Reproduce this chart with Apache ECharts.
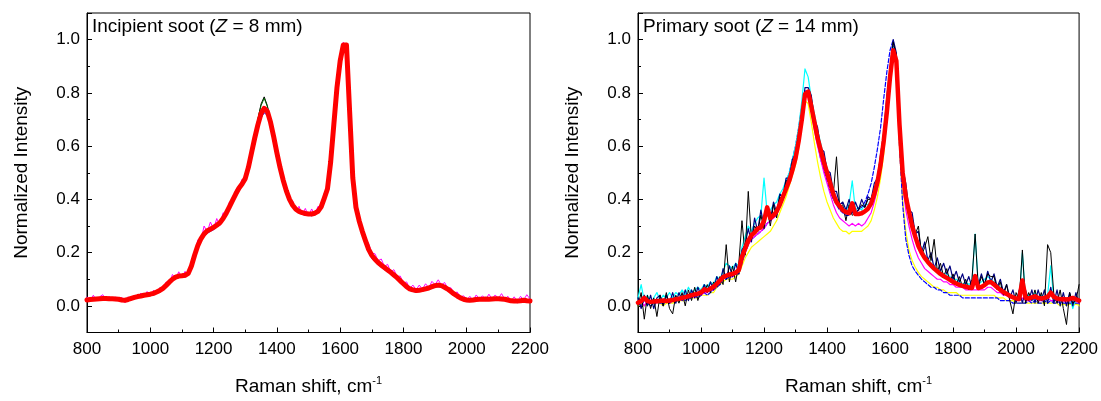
<!DOCTYPE html>
<html><head><meta charset="utf-8">
<script src="https://cdn.jsdelivr.net/npm/echarts@6/dist/echarts.min.js"></script>
<style>html,body{margin:0;padding:0;background:#fff}#c{width:1101px;height:401px}</style>
</head><body><div id="c"></div>
<script>
const waveNumbers = [800,810,820,830,840,850,860,870,880,890,900,910,920,930,940,950,960,970,980,990,1000,1010,1020,1030,1040,1050,1060,1070,1080,1090,1100,1110,1120,1130,1140,1150,1160,1170,1180,1190,1200,1210,1220,1230,1240,1250,1260,1270,1280,1290,1300,1310,1320,1330,1340,1350,1360,1370,1380,1390,1400,1410,1420,1430,1440,1450,1460,1470,1480,1490,1500,1510,1520,1530,1540,1550,1560,1570,1580,1590,1600,1610,1620,1630,1640,1650,1660,1670,1680,1690,1700,1710,1720,1730,1740,1750,1760,1770,1780,1790,1800,1810,1820,1830,1840,1850,1860,1870,1880,1890,1900,1910,1920,1930,1940,1950,1960,1970,1980,1990,2000,2010,2020,2030,2040,2050,2060,2070,2080,2090,2100,2110,2120,2130,2140,2150,2160,2170,2180,2190,2200];

const xTicks = [800,1000,1200,1400,1600,1800,2000,2200];
const yTicks = [0.0,0.2,0.4,0.6,0.8,1.0];
const panelTitles = [['Incipient soot (', 'Z', ' = 8 mm)'], ['Primary soot (', 'Z', ' = 14 mm)']];

// ---- Left panel: incipient soot (Z = 8 mm)
const leftMagenta = [0.034,0.018,0.040,0.020,0.034,0.042,0.022,0.036,0.020,0.034,
0.018,0.032,0.012,0.034,0.020,0.040,0.028,0.048,0.034,0.054,
0.038,0.058,0.046,0.068,0.058,0.090,0.082,0.118,0.102,0.128,
0.108,0.130,0.116,0.165,0.180,0.248,0.244,0.300,0.278,0.315,
0.288,0.328,0.302,0.350,0.342,0.390,0.390,0.436,0.436,0.476,
0.468,0.534,0.570,0.644,0.674,0.736,0.748,0.742,0.684,0.648,
0.568,0.534,0.466,0.446,0.394,0.394,0.356,0.374,0.343,0.366,
0.338,0.364,0.343,0.374,0.370,0.424,0.446,0.554,0.670,0.834,
0.916,0.990,0.970,0.744,0.470,0.394,0.326,0.298,0.256,0.234,
0.198,0.196,0.170,0.176,0.148,0.156,0.128,0.136,0.110,0.112,
0.086,0.090,0.066,0.078,0.060,0.078,0.063,0.083,0.068,0.092,
0.080,0.098,0.078,0.088,0.066,0.068,0.048,0.052,0.033,0.038,
0.023,0.036,0.020,0.041,0.026,0.038,0.023,0.044,0.026,0.041,
0.028,0.046,0.026,0.036,0.018,0.034,0.016,0.036,0.022,0.042,
0.026];
const leftBlue = [0.018,0.026,0.020,0.028,0.024,0.026,0.030,0.022,0.028,0.020,
0.024,0.016,0.020,0.018,0.026,0.028,0.034,0.032,0.038,0.036,
0.042,0.040,0.050,0.052,0.062,0.070,0.084,0.094,0.104,0.106,
0.110,0.108,0.118,0.142,0.184,0.218,0.244,0.262,0.272,0.280,
0.286,0.296,0.304,0.320,0.340,0.364,0.390,0.412,0.436,0.452,
0.472,0.512,0.568,0.622,0.668,0.706,0.725,0.716,0.680,0.628,
0.568,0.514,0.466,0.426,0.394,0.372,0.358,0.350,0.344,0.340,
0.342,0.338,0.344,0.350,0.366,0.400,0.436,0.534,0.676,0.814,
0.916,0.976,0.978,0.722,0.468,0.360,0.308,0.270,0.236,0.202,
0.178,0.166,0.154,0.146,0.136,0.128,0.118,0.110,0.100,0.088,
0.076,0.066,0.058,0.054,0.052,0.054,0.056,0.060,0.062,0.066,
0.070,0.072,0.070,0.064,0.056,0.048,0.040,0.032,0.026,0.020,
0.016,0.016,0.018,0.020,0.020,0.022,0.020,0.022,0.022,0.024,
0.022,0.020,0.020,0.018,0.014,0.014,0.012,0.014,0.016,0.014,
0.014];
const leftBlack = [0.024,0.022,0.028,0.024,0.030,0.026,0.030,0.028,0.026,0.028,
0.022,0.024,0.020,0.026,0.026,0.034,0.034,0.040,0.040,0.044,
0.044,0.050,0.052,0.060,0.066,0.080,0.090,0.102,0.110,0.114,
0.114,0.118,0.124,0.152,0.192,0.228,0.254,0.272,0.284,0.290,
0.296,0.306,0.314,0.332,0.350,0.376,0.398,0.424,0.448,0.466,
0.482,0.526,0.582,0.640,0.700,0.758,0.785,0.752,0.694,0.636,
0.576,0.520,0.474,0.434,0.402,0.380,0.364,0.356,0.352,0.348,
0.346,0.346,0.350,0.356,0.374,0.406,0.442,0.542,0.684,0.822,
0.924,0.982,0.984,0.734,0.484,0.374,0.322,0.282,0.248,0.216,
0.192,0.176,0.166,0.154,0.146,0.136,0.128,0.118,0.108,0.096,
0.084,0.074,0.066,0.062,0.060,0.060,0.062,0.066,0.068,0.074,
0.078,0.080,0.078,0.072,0.064,0.056,0.046,0.038,0.032,0.026,
0.022,0.022,0.024,0.026,0.026,0.026,0.028,0.026,0.028,0.028,
0.028,0.028,0.026,0.024,0.020,0.018,0.018,0.020,0.022,0.020,
0.018];
const leftGreen = [0.026,0.020,0.026,0.028,0.024,0.030,0.026,0.026,0.030,0.024,
0.026,0.020,0.022,0.024,0.030,0.030,0.036,0.036,0.042,0.040,
0.046,0.046,0.054,0.056,0.068,0.076,0.092,0.098,0.110,0.110,
0.116,0.114,0.126,0.146,0.196,0.224,0.256,0.268,0.286,0.286,
0.298,0.302,0.316,0.328,0.352,0.372,0.400,0.420,0.450,0.462,
0.486,0.522,0.584,0.636,0.702,0.752,0.780,0.748,0.696,0.632,
0.578,0.516,0.476,0.430,0.404,0.376,0.366,0.352,0.354,0.344,
0.348,0.342,0.352,0.352,0.376,0.402,0.444,0.538,0.682,0.818,
0.922,0.978,0.986,0.728,0.486,0.368,0.324,0.278,0.250,0.214,
0.194,0.172,0.168,0.150,0.148,0.132,0.130,0.114,0.110,0.092,
0.086,0.070,0.068,0.058,0.062,0.056,0.064,0.062,0.070,0.070,
0.080,0.076,0.080,0.068,0.066,0.052,0.048,0.034,0.034,0.022,
0.024,0.018,0.026,0.022,0.028,0.022,0.030,0.022,0.030,0.024,
0.030,0.024,0.028,0.020,0.022,0.014,0.020,0.016,0.024,0.016,
0.020];
const leftRed = [0.022,0.024,0.025,0.026,0.027,0.028,0.028,0.027,0.027,0.026,
0.025,0.022,0.021,0.024,0.028,0.032,0.035,0.037,0.040,0.042,
0.044,0.047,0.052,0.058,0.066,0.077,0.089,0.100,0.108,0.112,
0.113,0.115,0.122,0.150,0.190,0.226,0.252,0.270,0.282,0.288,
0.295,0.303,0.312,0.328,0.348,0.372,0.396,0.420,0.442,0.458,
0.478,0.520,0.575,0.630,0.680,0.722,0.742,0.730,0.690,0.635,
0.575,0.520,0.472,0.432,0.400,0.378,0.363,0.355,0.350,0.347,
0.345,0.345,0.348,0.355,0.372,0.405,0.440,0.540,0.680,0.820,
0.920,0.980,0.980,0.730,0.480,0.370,0.320,0.280,0.245,0.212,
0.190,0.175,0.163,0.153,0.144,0.135,0.126,0.116,0.106,0.094,
0.083,0.072,0.064,0.060,0.058,0.059,0.061,0.064,0.067,0.072,
0.076,0.078,0.076,0.070,0.063,0.054,0.045,0.037,0.030,0.025,
0.022,0.021,0.022,0.024,0.025,0.025,0.026,0.025,0.026,0.027,
0.027,0.026,0.025,0.022,0.019,0.018,0.018,0.019,0.021,0.019,
0.018];

// ---- Right panel: primary soot (Z = 14 mm)
const rightYellow = [0.00,0.01,0.00,0.01,0.00,0.01,0.01,0.01,0.00,0.01,
0.01,0.01,0.02,0.02,0.02,0.02,0.03,0.03,0.03,0.03,
0.04,0.04,0.04,0.05,0.05,0.07,0.08,0.09,0.10,0.10,
0.10,0.11,0.12,0.15,0.18,0.20,0.22,0.23,0.24,0.25,
0.26,0.27,0.28,0.30,0.32,0.35,0.38,0.41,0.45,0.49,
0.53,0.59,0.68,0.77,0.76,0.69,0.61,0.54,0.48,0.43,
0.39,0.36,0.33,0.31,0.29,0.28,0.28,0.27,0.28,0.28,
0.28,0.28,0.29,0.30,0.32,0.36,0.41,0.48,0.57,0.70,
0.84,0.96,0.90,0.60,0.40,0.28,0.21,0.17,0.145,0.125,
0.11,0.10,0.09,0.08,0.07,0.07,0.06,0.06,0.05,0.05,
0.05,0.05,0.04,0.04,0.04,0.04,0.04,0.04,0.04,0.04,
0.04,0.04,0.04,0.04,0.03,0.03,0.03,0.02,0.02,0.02,
0.01,0.01,0.01,0.01,0.01,0.01,0.01,0.01,0.01,0.01,
0.01,0.01,0.01,0.01,0.00,0.01,0.00,0.01,0.00,0.01,
0.00];
const rightBlue = [0.01,0.00,0.02,0.01,0.00,0.01,0.02,0.01,0.01,0.02,
0.01,0.02,0.02,0.02,0.03,0.02,0.03,0.03,0.04,0.03,
0.04,0.05,0.04,0.05,0.06,0.07,0.08,0.10,0.10,0.11,
0.11,0.12,0.12,0.16,0.20,0.23,0.25,0.26,0.27,0.28,
0.29,0.31,0.32,0.34,0.36,0.39,0.42,0.46,0.50,0.55,
0.60,0.67,0.75,0.81,0.80,0.74,0.67,0.61,0.55,0.51,
0.47,0.43,0.40,0.38,0.36,0.35,0.34,0.34,0.35,0.35,
0.36,0.37,0.39,0.42,0.46,0.52,0.59,0.67,0.78,0.88,
0.96,1.00,0.88,0.60,0.38,0.25,0.19,0.15,0.13,0.115,
0.10,0.09,0.08,0.07,0.07,0.06,0.06,0.05,0.05,0.04,
0.04,0.04,0.04,0.03,0.03,0.03,0.03,0.03,0.03,0.03,
0.03,0.03,0.03,0.03,0.03,0.02,0.02,0.02,0.02,0.01,
0.01,0.01,0.01,0.01,0.02,0.01,0.02,0.01,0.01,0.02,
0.01,0.02,0.01,0.01,0.02,0.01,0.01,0.01,0.01,0.01,
0.01];
const rightMagenta = [0.01,0.02,0.00,0.02,0.01,0.02,0.01,0.02,0.01,0.02,
0.01,0.02,0.02,0.03,0.02,0.03,0.03,0.04,0.03,0.04,
0.04,0.05,0.05,0.06,0.06,0.08,0.09,0.10,0.11,0.11,
0.11,0.12,0.13,0.17,0.20,0.23,0.25,0.26,0.27,0.28,
0.29,0.31,0.32,0.33,0.34,0.37,0.40,0.43,0.46,0.50,
0.54,0.61,0.70,0.78,0.79,0.73,0.66,0.60,0.55,0.50,
0.46,0.42,0.38,0.35,0.33,0.32,0.31,0.30,0.31,0.30,
0.31,0.30,0.31,0.33,0.35,0.39,0.44,0.51,0.60,0.72,
0.85,0.95,0.90,0.65,0.46,0.36,0.30,0.25,0.21,0.18,
0.16,0.14,0.13,0.12,0.11,0.10,0.10,0.09,0.09,0.08,
0.08,0.07,0.07,0.07,0.06,0.06,0.06,0.06,0.06,0.06,
0.06,0.07,0.07,0.06,0.05,0.05,0.04,0.04,0.03,0.03,
0.02,0.02,0.03,0.02,0.02,0.02,0.03,0.02,0.02,0.02,
0.03,0.02,0.02,0.02,0.01,0.02,0.01,0.02,0.01,0.02,
0.01];
const rightCyan = [0.03,0.08,0.02,0.04,0.01,0.03,0.05,0.02,0.04,0.03,
0.05,0.03,0.05,0.04,0.06,0.04,0.07,0.05,0.06,0.07,
0.06,0.08,0.07,0.09,0.08,0.11,0.10,0.13,0.16,0.15,
0.14,0.16,0.15,0.22,0.26,0.30,0.28,0.31,0.33,0.34,
0.48,0.35,0.36,0.38,0.39,0.42,0.44,0.47,0.50,0.55,
0.60,0.67,0.77,0.89,0.86,0.78,0.72,0.66,0.61,0.56,
0.52,0.47,0.44,0.40,0.38,0.37,0.36,0.38,0.47,0.36,
0.37,0.36,0.38,0.38,0.40,0.44,0.48,0.55,0.64,0.76,
0.88,0.97,0.93,0.70,0.52,0.42,0.36,0.31,0.27,0.24,
0.22,0.19,0.18,0.16,0.15,0.14,0.13,0.12,0.12,0.11,
0.10,0.10,0.09,0.08,0.09,0.08,0.09,0.27,0.08,0.09,
0.10,0.11,0.10,0.09,0.08,0.07,0.06,0.05,0.04,0.03,
0.03,0.02,0.20,0.03,0.04,0.02,0.05,0.03,0.04,0.02,
0.04,0.15,0.02,0.03,0.01,0.03,0.02,0.04,-0.01,0.03,
0.02];
const rightNavy = [0.03,-0.01,0.04,0.00,0.04,-0.01,0.03,0.04,0.00,0.04,
0.01,0.05,0.01,0.05,0.02,0.06,0.02,0.06,0.03,0.07,
0.04,0.08,0.05,0.09,0.06,0.11,0.08,0.14,0.10,0.15,
0.11,0.16,0.12,0.21,0.23,0.29,0.24,0.33,0.28,0.36,
0.30,0.37,0.32,0.39,0.35,0.42,0.41,0.48,0.48,0.55,
0.57,0.65,0.71,0.82,0.82,0.79,0.70,0.67,0.59,0.58,
0.51,0.50,0.43,0.43,0.38,0.39,0.36,0.40,0.35,0.39,
0.36,0.40,0.37,0.41,0.40,0.46,0.48,0.57,0.65,0.79,
0.89,1.00,0.95,0.72,0.52,0.46,0.36,0.35,0.27,0.28,
0.20,0.24,0.17,0.20,0.14,0.18,0.13,0.16,0.12,0.15,
0.10,0.13,0.09,0.12,0.08,0.11,0.07,0.11,0.08,0.12,
0.08,0.13,0.09,0.12,0.07,0.10,0.05,0.08,0.03,0.06,
0.01,0.06,0.01,0.06,0.02,0.06,0.01,0.06,0.02,0.06,
0.01,0.07,0.01,0.06,0.00,0.05,0.00,0.05,0.00,0.05,
0.01];
const rightBlack = [0.00,0.05,-0.05,0.04,-0.01,0.03,-0.04,0.04,0.00,0.05,
-0.01,-0.03,0.04,0.01,0.05,0.00,0.06,0.02,0.07,0.02,
0.06,0.05,0.08,0.05,0.09,0.07,0.11,0.08,0.23,0.09,
0.15,0.09,0.16,0.32,0.19,0.43,0.25,0.30,0.28,0.34,
0.29,0.36,0.30,0.38,0.33,0.41,0.40,0.47,0.47,0.54,
0.55,0.64,0.71,0.80,0.79,0.74,0.68,0.64,0.58,0.56,
0.50,0.48,0.42,0.56,0.37,0.38,0.32,0.38,0.34,0.35,
0.36,0.38,0.37,0.40,0.40,0.44,0.47,0.55,0.63,0.76,
0.88,0.99,0.94,0.70,0.51,0.44,0.36,0.33,0.27,0.30,
0.19,0.22,0.26,0.17,0.25,0.13,0.16,0.11,0.14,0.09,
0.12,0.08,0.11,0.07,0.10,0.06,0.10,0.27,0.07,0.11,
0.08,0.12,0.11,0.11,0.06,0.09,0.04,0.08,0.02,-0.03,
0.05,0.02,0.21,0.01,0.05,0.02,0.06,0.01,0.05,0.00,
0.23,0.20,0.04,0.01,0.06,-0.01,-0.07,0.05,0.01,0.02,
0.08];
const rightRed = [0.012,0.018,0.030,0.018,0.015,0.016,0.018,0.018,0.020,0.018,
0.020,0.022,0.025,0.027,0.030,0.033,0.036,0.040,0.043,0.046,
0.050,0.062,0.058,0.065,0.072,0.082,0.095,0.108,0.113,0.118,
0.120,0.125,0.135,0.185,0.215,0.245,0.265,0.275,0.290,0.295,
0.320,0.370,0.330,0.340,0.355,0.380,0.410,0.440,0.470,0.510,
0.555,0.620,0.700,0.795,0.805,0.750,0.690,0.630,0.585,0.540,
0.500,0.460,0.420,0.390,0.375,0.360,0.352,0.348,0.385,0.345,
0.345,0.348,0.355,0.365,0.385,0.420,0.465,0.530,0.620,0.730,
0.860,0.960,0.920,0.680,0.500,0.410,0.355,0.300,0.260,0.225,
0.200,0.180,0.165,0.152,0.140,0.130,0.120,0.112,0.105,0.098,
0.090,0.084,0.079,0.075,0.072,0.069,0.067,0.112,0.067,0.071,
0.078,0.088,0.090,0.080,0.070,0.060,0.052,0.045,0.038,0.032,
0.028,0.026,0.095,0.030,0.028,0.032,0.036,0.030,0.028,0.030,
0.034,0.050,0.034,0.028,0.025,0.026,0.024,0.026,0.030,0.025,
0.020];

const FONT = 'Arial, "Liberation Sans", sans-serif';
const pairs = arr => waveNumbers.map((x, i) => [x, arr[i]]);

const grids = [
  { left: 87, top: 13, width: 443, height: 325 },
  { left: 638, top: 13, width: 442, height: 325 }
].map(g => Object.assign(g, { show: true, borderColor: '#000', borderWidth: 1, backgroundColor: 'transparent', containLabel: false }));

function xAxisFor(gi) {
  return {
    gridIndex: gi, type: 'value', min: xTicks[0], max: xTicks[xTicks.length - 1], interval: xTicks[1] - xTicks[0],
    axisLine: { onZero: false, lineStyle: { color: '#000', width: 1 } },
    axisTick: { inside: true, length: 5, lineStyle: { color: '#000' } },
    minorTick: { show: true, splitNumber: 2, length: 3, lineStyle: { color: '#000' } },
    splitLine: { show: false },
    axisLabel: { color: '#000', fontSize: 17, fontFamily: FONT, margin: 8, formatter: v => String(v) },
    name: '{a|Raman shift, cm}{s|-1}', nameLocation: 'middle', nameGap: 43,
    nameTextStyle: { rich: {
      a: { fontSize: 19, fontFamily: FONT, color: '#000', lineHeight: 22 },
      s: { fontSize: 11, fontFamily: FONT, color: '#000', verticalAlign: 'top', lineHeight: 22, padding: [0, 0, 8, 0] }
    } }
  };
}
function yMajorFor(gi) {
  return {
    gridIndex: gi, type: 'value', min: -0.1, max: 1.1, splitNumber: 6, position: 'left',
    axisLine: { onZero: false, lineStyle: { color: '#000', width: 1 } },
    axisTick: { inside: true, length: 5, lineStyle: { color: '#000' } },
    splitLine: { show: false },
    axisLabel: { color: '#000', fontSize: 17, fontFamily: FONT, margin: 7,
      formatter: v => yTicks.some(t => Math.abs(t - v) < 1e-6) ? v.toFixed(1) : '' },
    name: 'Normalized Intensity', nameLocation: 'middle', nameGap: 56,
    nameTextStyle: { fontSize: 19, fontFamily: FONT, color: '#000' }
  };
}
function yMinorFor(gi) {
  return {
    gridIndex: gi, type: 'value', min: -0.1, max: 1.1, interval: 0.1, position: 'left', offset: 0,
    axisLine: { show: false, onZero: false },
    axisTick: { inside: true, length: 3, lineStyle: { color: '#000' } },
    splitLine: { show: false }, axisLabel: { show: false }
  };
}

function line(name, arr, color, gi, width, dashed) {
  return {
    name, type: 'line', xAxisIndex: gi, yAxisIndex: gi * 2, data: pairs(arr),
    showSymbol: false, symbol: 'none', animation: false, silent: true,
    lineStyle: { color, width, type: dashed ? [4, 2] : 'solid', join: 'round', cap: 'round' }
  };
}

const titles = panelTitles.map((t, i) => ({
  left: i === 0 ? 92 : 643, top: 17, padding: 0,
  text: '{a|' + t[0] + '}{b|' + t[1] + '}{a|' + t[2] + '}',
  textStyle: { fontWeight: 'normal', rich: {
    a: { fontSize: 19, fontFamily: FONT, color: '#000', fontWeight: 'normal' },
    b: { fontSize: 19, fontFamily: FONT, color: '#000', fontWeight: 'normal', fontStyle: 'italic' }
  } }
}));

const chart = echarts.init(document.getElementById('c'), null, { renderer: 'canvas' });
chart.setOption({
  animation: false,
  backgroundColor: '#fff',
  title: titles,
  grid: grids,
  xAxis: [xAxisFor(0), xAxisFor(1)],
  yAxis: [yMajorFor(0), yMinorFor(0), yMajorFor(1), yMinorFor(1)],
  series: [
    line('L black', leftBlack, '#000000', 0, 1),
    line('L green', leftGreen, '#006400', 0, 1),
    line('L blue', leftBlue, '#0000ff', 0, 1),
    line('L magenta', leftMagenta, '#ff00ff', 0, 1),
    line('L red', leftRed, '#ff0000', 0, 5),
    line('R yellow', rightYellow, '#ffff00', 1, 1.2),
    line('R blue', rightBlue, '#0000ff', 1, 1.2, true),
    line('R magenta', rightMagenta, '#ff00ff', 1, 1.2),
    line('R cyan', rightCyan, '#00ffff', 1, 1.2),
    line('R navy', rightNavy, '#000080', 1, 1.2),
    line('R black', rightBlack, '#000000', 1, 1),
    line('R red', rightRed, '#ff0000', 1, 4.5)
  ]
});
</script>
</body></html>
